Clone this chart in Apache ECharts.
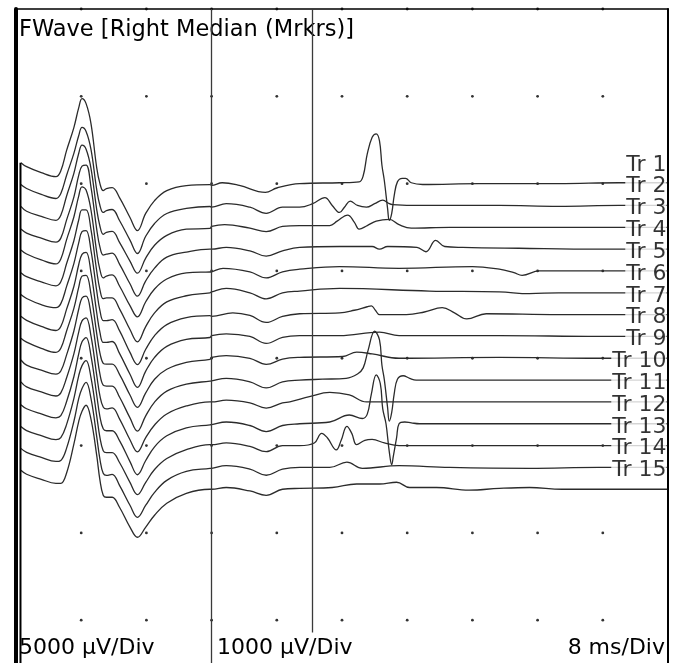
<!DOCTYPE html>
<html>
<head>
<meta charset="utf-8">
<title>FWave [Right Median (Mrkrs)]</title>
<script src="https://cdn.jsdelivr.net/npm/echarts@6/dist/echarts.min.js"></script>
<style>
  html, body { margin: 0; padding: 0; background: #fff; }
  #fwave { width: 675px; height: 663px; }
</style>
</head>
<body>
<div id="fwave"></div>
<script>
// sweep 8 ms/Div over 10 divisions, traces stacked a quarter division apart
const traceNames = ['Tr 1', 'Tr 2', 'Tr 3', 'Tr 4', 'Tr 5', 'Tr 6', 'Tr 7', 'Tr 8',
  'Tr 9', 'Tr 10', 'Tr 11', 'Tr 12', 'Tr 13', 'Tr 14', 'Tr 15'];
// baseline of each trace, in divisions below the top edge
const baseline = [2, 2.25, 2.5, 2.75, 3, 3.25, 3.5, 3.75, 4, 4.25, 4.5, 4.75, 5, 5.25, 5.5];
const gainLeft = 5000;   // µV/Div before the split
const gainRight = 1000;  // µV/Div after the split
const gainSplit = 24;    // ms
const visibleDivs = 7.49; // the screen is cut a little above the 8th division
const markers = [24, 36.4]; // ms
const markerEnds = [-7.49, -7.14]; // divisions

// M wave, sampled at shared times (ms); values in µV, up positive
const mTimes = [0.6, 1.3, 3.1, 4.9, 5.5, 6.2, 7.1, 7.7, 8.1, 8.6, 9.2, 9.9, 10.3, 10.7,
  11.1, 11.8, 12.7, 14.0, 14.9, 15.9, 17.0, 18.5, 20.9, 23.8];
const mWave = [
  [1200, 970, 630, 400, 740, 1890, 3210, 4350, 4870, 4580, 3440, 920, 0, -400, -290, -230, -800, -1950, -2690, -1720, -970, -400, -110, -60],
  [1200, 970, 630, 400, 690, 1720, 2980, 4010, 4470, 4240, 3210, 920, 0, -400, -290, -230, -860, -2000, -2750, -1780, -1030, -460, -170, -60],
  [1200, 920, 630, 400, 690, 1780, 3090, 4240, 4700, 4470, 3380, 1030, 60, -400, -290, -230, -860, -1950, -2630, -1780, -1030, -460, -110, -60],
  [1150, 920, 630, 400, 630, 1660, 2980, 4240, 4750, 4810, 3550, 1150, 110, -340, -290, -230, -860, -2000, -2690, -1830, -1090, -460, -170, 0],
  [1200, 970, 630, 400, 690, 1780, 3090, 4300, 4810, 4640, 3490, 1090, 60, -400, -290, -230, -860, -2000, -2630, -1780, -1030, -460, -110, -60],
  [1150, 920, 630, 400, 630, 1660, 2980, 4180, 4750, 4750, 3610, 1260, 170, -340, -290, -290, -920, -2120, -2810, -1950, -1150, -520, -170, 0],
  [1150, 920, 570, 400, 630, 1600, 2920, 4120, 4750, 4810, 3670, 1370, 230, -340, -340, -290, -920, -2180, -2860, -2000, -1200, -570, -170, -60],
  [1150, 920, 570, 340, 570, 1550, 2860, 4120, 4700, 4810, 3670, 1370, 230, -340, -340, -290, -970, -2180, -2920, -2000, -1200, -570, -170, -60],
  [1150, 920, 570, 340, 570, 1550, 2860, 4070, 4700, 4750, 3670, 1430, 290, -290, -340, -340, -920, -2120, -2810, -2000, -1200, -630, -230, -60],
  [1150, 860, 570, 340, 520, 1430, 2810, 4070, 4700, 4810, 3780, 1550, 340, -290, -340, -340, -970, -2180, -2920, -2060, -1260, -630, -230, -60],
  [1150, 860, 570, 340, 520, 1370, 2750, 4010, 4640, 4810, 3780, 1550, 340, -290, -400, -340, -970, -2180, -2860, -2060, -1320, -690, -230, 0],
  [1090, 860, 570, 340, 460, 1260, 2690, 4010, 4700, 4930, 3890, 1660, 400, -290, -400, -400, -970, -2180, -2920, -2120, -1320, -690, -230, -60],
  [1090, 860, 570, 340, 460, 1200, 2690, 4010, 4580, 4870, 3890, 1720, 460, -290, -400, -400, -970, -2120, -2810, -2120, -1370, -740, -230, 60],
  [1090, 860, 570, 340, 400, 1090, 2630, 3950, 4520, 4870, 3950, 1780, 460, -340, -460, -400, -1030, -2180, -2860, -2180, -1430, -740, -230, -60],
  [1090, 860, 570, 340, 340, 920, 2580, 3890, 4470, 4810, 4010, 1950, 520, -340, -460, -460, -1030, -2180, -2750, -2180, -1490, -800, -230, 0]
];

// late part of each trace (F waves): [ms, µV]
const fWave = [
  [[24.0,-20],[25.3,10],[27.4,-20],[30.6,-100],[32.0,-50],[34.8,0],[39.7,10],[42.1,20],[42.6,90],[43.1,340],[43.7,530],[44.2,570],[44.6,490],[44.9,210],[45.2,30],[45.6,-290],[45.8,-420],[46.1,-340],[46.4,-140],[46.8,20],[47.4,60],[47.8,60],[48.5,10],[49.9,-10],[56.8,0],[66.6,0],[74.0,10],[79.9,10]],
  [[24.0,-20],[25.8,20],[28.7,-20],[30.7,-90],[32.7,-20],[34.8,-20],[36.4,20],[37.9,90],[38.8,0],[39.7,-80],[40.3,-20],[41.0,50],[41.9,0],[43.0,-20],[44.0,20],[45.0,60],[45.8,20],[46.2,10],[49.5,0],[59.3,0],[66.6,-10],[74.0,0],[79.9,0]],
  [[24.0,10],[25.6,30],[28.7,-10],[30.7,-50],[32.7,10],[34.8,20],[38.5,20],[39.4,70],[40.7,140],[41.5,60],[42.1,-20],[43.1,20],[44.2,70],[45.8,90],[47.0,30],[48.5,-10],[53.2,0],[61.8,0],[71.5,0],[79.9,0]],
  [[24.0,0],[25.8,20],[28.7,-20],[30.7,-80],[32.7,-20],[34.8,20],[39.7,30],[43.7,30],[44.6,0],[45.6,30],[49.2,20],[50.3,-30],[51.5,100],[52.6,30],[54.8,20],[61.7,10],[71.5,0],[79.9,0]],
  [[24.0,-10],[25.4,30],[28.7,-10],[30.7,-80],[32.7,-10],[34.8,20],[39.7,50],[47.0,30],[56.0,50],[59.3,20],[61.1,-20],[62.1,-50],[64.2,0],[71.5,0],[79.9,0]],
  [[24.0,10],[25.8,50],[28.7,0],[30.7,-70],[32.7,0],[34.8,20],[39.7,50],[50.7,20],[59.3,10],[63.0,-10],[66.6,0],[79.9,0]],
  [[24.0,-20],[26.6,20],[28.7,-10],[30.7,-90],[32.7,-20],[34.8,10],[39.7,20],[41.5,50],[43.1,90],[43.6,100],[44.1,50],[44.6,0],[47.9,0],[50.1,30],[52.3,80],[53.8,20],[55.3,-50],[57.7,10],[66.6,0],[79.9,0]],
  [[24.0,10],[25.8,30],[28.7,0],[30.7,-80],[32.7,-10],[34.8,10],[39.7,10],[44.6,50],[47.0,10],[59.3,10],[71.5,0],[79.9,0]],
  [[24.0,10],[25.8,30],[28.7,0],[30.7,-70],[32.7,-10],[34.8,10],[40.1,20],[41.8,70],[43.7,50],[47.0,0],[59.3,10],[71.5,0],[79.9,0]],
  [[24.0,-10],[25.8,20],[28.7,-20],[30.7,-90],[32.7,-20],[34.8,0],[37.6,10],[40.5,20],[41.9,70],[42.6,140],[43.2,340],[44.0,560],[44.6,460],[44.9,170],[45.2,0],[45.6,-320],[45.8,-470],[46.1,-370],[46.4,-160],[46.8,10],[47.5,50],[48.3,20],[49.1,0],[59.3,0],[71.5,0],[79.9,0]],
  [[24.0,0],[25.8,20],[28.7,-10],[30.7,-70],[32.7,-10],[33.6,0],[36.0,60],[38.5,110],[40.9,80],[43.0,0],[47.0,0],[59.3,0],[71.5,0],[79.9,0]],
  [[24.0,-10],[25.8,20],[28.7,-20],[30.7,-90],[32.7,-20],[34.8,0],[38.5,20],[40.9,100],[42.5,60],[43.1,110],[43.6,340],[44.2,560],[44.7,460],[45.0,170],[45.4,0],[45.8,-320],[46.1,-470],[46.3,-370],[46.7,-160],[47.0,0],[47.7,20],[48.5,10],[49.5,0],[59.3,0],[71.5,0],[79.9,0]],
  [[24.0,10],[25.8,30],[28.7,-10],[30.7,-70],[32.7,0],[34.8,0],[36.6,30],[37.5,140],[38.2,90],[39.3,-50],[39.9,60],[40.6,220],[41.2,140],[41.8,10],[42.8,60],[43.7,70],[45.2,30],[47.0,0],[59.3,0],[71.5,0],[79.9,0]],
  [[24.0,-10],[25.8,20],[28.7,-20],[30.7,-90],[32.7,-20],[34.8,0],[38.5,0],[40.6,60],[42.5,-10],[47.0,20],[53.2,0],[63.0,-10],[71.5,0],[79.9,0]],
  [[24.0,0],[25.8,20],[28.7,-20],[30.7,-70],[32.7,0],[34.8,10],[38.8,20],[41.8,60],[44.6,60],[46.7,80],[48.3,20],[51.6,20],[55.6,-10],[59.3,10],[63.0,20],[67.0,0],[71.5,0],[79.9,0]]
];

const FONT = '"DejaVu Sans", sans-serif';
const INK = '#2b2b2b';

function toDiv(t, uv) {
  return uv / (t < gainSplit ? gainLeft : gainRight);
}

const chart = echarts.init(document.getElementById('fwave'));

const series = [];
let stimTop = -visibleDivs;
traceNames.forEach(function (name, k) {
  const pts = mTimes.map(function (t, i) { return [t, mWave[k][i]]; }).concat(fWave[k]);
  const data = pts.map(function (p) { return [p[0], -baseline[k] + toDiv(p[0], p[1])]; });
  stimTop = Math.max(stimTop, data[0][1]);
  series.push({
    name: name,
    type: 'line',
    smooth: 0.4,
    symbol: 'none',
    z: 3,
    lineStyle: { color: INK, width: 1.3 },
    data: data
  });
});

// stimulus artefacts running off the bottom
series.push({
  type: 'line', symbol: 'none', z: 3,
  lineStyle: { color: '#000', width: 2 },
  data: [[mTimes[0] - 0.05, stimTop], [mTimes[0] - 0.05, -visibleDivs]]
});

// division dots + marker lines
const dots = [];
for (let i = 1; i < 10; i++) {
  for (let j = 0; j < 8; j++) dots.push([i * 8, -j]);
}
series.push({
  type: 'scatter', symbolSize: 2.8, z: 2, silent: true,
  itemStyle: { color: '#000' },
  data: dots,
  markLine: {
    silent: true, symbol: 'none', label: { show: false },
    lineStyle: { color: '#3a3a3a', width: 1.3, type: 'solid' },
    data: markers.map(function (m, i) {
      return [{ coord: [m, 0] }, { coord: [m, markerEnds[i]] }];
    })
  }
});

// trace names at the right edge, just above each trace
series.push({
  type: 'scatter', symbolSize: 1, z: 10, silent: true,
  itemStyle: { color: 'rgba(0,0,0,0)' },
  label: {
    show: true, position: 'left', distance: 1, formatter: '{b}',
    fontFamily: FONT, fontSize: 22, color: '#000',
    backgroundColor: '#fff', padding: [0, 0, 0, 1]
  },
  data: traceNames.map(function (n, k) {
    return { name: n, value: [80, -baseline[k] + 0.215] };
  })
});

const hidden = { axisTick: { show: false }, axisLabel: { show: false }, splitLine: { show: false } };

chart.setOption({
  animation: false,
  backgroundColor: '#fff',
  grid: { left: 16, right: 7, top: 9, bottom: 0 },
  xAxis: Object.assign({
    type: 'value', min: 0, max: 80, position: 'top',
    axisLine: { show: true, lineStyle: { color: '#000', width: 1.5 } }
  }, hidden),
  yAxis: [
    Object.assign({
      type: 'value', min: -visibleDivs, max: 0, position: 'left',
      axisLine: { show: true, onZero: false, lineStyle: { color: '#000', width: 4 } }
    }, hidden),
    Object.assign({
      type: 'value', min: -visibleDivs, max: 0, position: 'right',
      axisLine: { show: true, onZero: false, lineStyle: { color: '#000', width: 2 } }
    }, hidden)
  ],
  graphic: [
    { type: 'text', left: 19, top: 19, z: 5,
      style: { text: 'FWave [Right Median (Mrkrs)]', font: '22.5px ' + FONT, fill: '#000' } },
    { type: 'text', left: 19, top: 637, z: 5,
      style: { text: '5000 µV/Div', font: '22px ' + FONT, fill: '#000' } },
    { type: 'text', left: 217, top: 637, z: 5,
      style: { text: '1000 µV/Div', font: '22px ' + FONT, fill: '#000' } },
    { type: 'text', right: 10, top: 637, z: 5,
      style: { text: '8 ms/Div', font: '22px ' + FONT, fill: '#000' } }
  ],
  series: series
});
</script>
</body>
</html>
